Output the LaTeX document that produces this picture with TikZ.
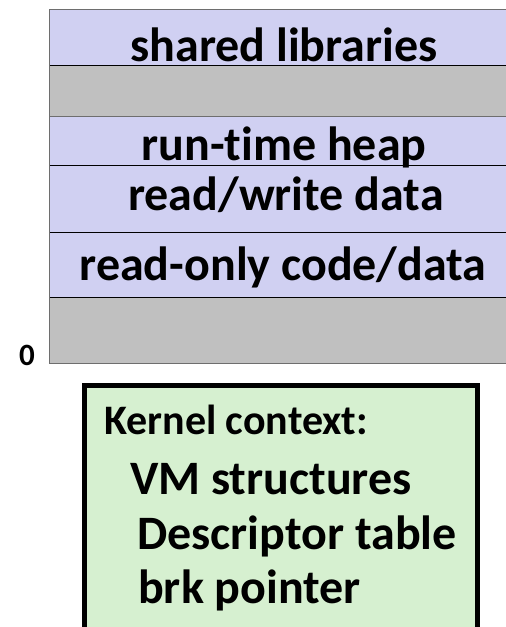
\documentclass[tikz,border=0pt]{standalone}
\usepackage{fontspec}
\setmainfont{Carlito}[Ligatures=NoCommon]
\definecolor{lav}{RGB}{208,208,242}
\definecolor{segray}{RGB}{192,192,192}
\definecolor{kgreen}{RGB}{214,240,208}
\definecolor{edgegray}{RGB}{110,110,110}
\begin{document}
\begin{tikzpicture}[x=1pt,y=-1pt,
  seglabel/.style={anchor=base,inner sep=0pt,font=\bfseries\fontsize{48}{52}\selectfont},
  klabel/.style={anchor=base west,inner sep=0pt,font=\bfseries\fontsize{48}{52}\selectfont},
  sep/.style={draw=black,line width=1pt}]
\useasboundingbox (0,0) rectangle (506,627);
% memory segments
\fill[lav] (49.5,9.5) rectangle (510,65);
\fill[segray] (49.5,65) rectangle (510,116);
\fill[lav] (49.5,116) rectangle (510,297);
\fill[segray] (49.5,297) rectangle (510,363.5);
\draw[sep] (49.5,65) -- (510,65);
\draw[edgegray,line width=1pt] (49.5,116) -- (510,116);
\draw[sep] (49.5,232.5) -- (510,232.5);
\draw[sep] (49.5,297) -- (510,297);
\node[seglabel] (shl) at (284,61) {shared libraries};
\node[seglabel] (heap) at (284,160) {run-time heap};
\draw[sep] (49.5,165.5) -- (510,165.5);
\node[seglabel] (rw) at (286,210) {read/write data};
\node[seglabel] (ro) at (283,280) {read-only code/data};
\draw[edgegray,line width=1.5pt] (510,9.5) -- (49.5,9.5) -- (49.5,363.5) -- (510,363.5);
\node[anchor=base,inner sep=0pt,font=\bfseries\fontsize{31}{34}\selectfont] (zero) at (27,365) {0};
% kernel context
\filldraw[fill=kgreen,draw=black,line width=5pt] (84.5,640) -- (84.5,385.5) -- (477,385.5) -- (477,640);
\node[klabel,font=\bfseries\fontsize{42}{46}\selectfont] (kc) at (104,434) {Kernel context:};
\node[klabel] (vm) at (130,494) {VM structures};
\node[klabel] (dt) at (137,549) {Descriptor table};
\node[klabel] (brk) at (138,603) {brk pointer};
\end{tikzpicture}
\end{document}
